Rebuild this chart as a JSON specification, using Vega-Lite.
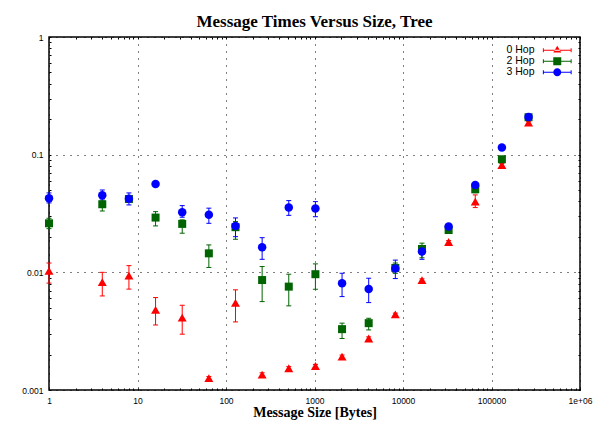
{
  "$schema": "https://vega.github.io/schema/vega-lite/v6.json",
  "width": 531,
  "height": 353,
  "autosize": "none",
  "padding": {"left": 49, "top": 37, "right": 23, "bottom": 39},
  "background": "white",
  "title": {"text": "Message Times Versus Size, Tree", "font": "Liberation Serif", "fontSize": 17, "fontWeight": "bold", "color": "#000", "anchor": "middle", "baseline": "alphabetic", "offset": -11},
  "config": {"view": {"stroke": "#000", "strokeWidth": 1.5}},
  "data": {"values": [
    {"size": 1, "hop": "0 Hop", "t": 0.0103, "lo": 0.0081, "hi": 0.012},
    {"size": 4, "hop": "0 Hop", "t": 0.00824, "lo": 0.0063, "hi": 0.01},
    {"size": 8, "hop": "0 Hop", "t": 0.00938, "lo": 0.0072, "hi": 0.0114},
    {"size": 16, "hop": "0 Hop", "t": 0.0048, "lo": 0.00357, "hi": 0.0061},
    {"size": 32, "hop": "0 Hop", "t": 0.00412, "lo": 0.00298, "hi": 0.00525},
    {"size": 64, "hop": "0 Hop", "t": 0.00126, "lo": 0.00122, "hi": 0.0013},
    {"size": 128, "hop": "0 Hop", "t": 0.0055, "lo": 0.00379, "hi": 0.0071},
    {"size": 256, "hop": "0 Hop", "t": 0.00135, "lo": 0.0013, "hi": 0.0014},
    {"size": 512, "hop": "0 Hop", "t": 0.00153, "lo": 0.00148, "hi": 0.00158},
    {"size": 1024, "hop": "0 Hop", "t": 0.0016, "lo": 0.00155, "hi": 0.00165},
    {"size": 2048, "hop": "0 Hop", "t": 0.00192, "lo": 0.00186, "hi": 0.00198},
    {"size": 4096, "hop": "0 Hop", "t": 0.00274, "lo": 0.00265, "hi": 0.00283},
    {"size": 8192, "hop": "0 Hop", "t": 0.0044, "lo": 0.0043, "hi": 0.0045},
    {"size": 16384, "hop": "0 Hop", "t": 0.0086, "lo": 0.0084, "hi": 0.0088},
    {"size": 32768, "hop": "0 Hop", "t": 0.0181, "lo": 0.0176, "hi": 0.0186},
    {"size": 65536, "hop": "0 Hop", "t": 0.0399, "lo": 0.0355, "hi": 0.0455},
    {"size": 131072, "hop": "0 Hop", "t": 0.0817, "lo": 0.079, "hi": 0.084},
    {"size": 262144, "hop": "0 Hop", "t": 0.187, "lo": 0.182, "hi": 0.192},
    {"size": 1, "hop": "2 Hop", "t": 0.0261, "lo": 0.0235, "hi": 0.0288},
    {"size": 4, "hop": "2 Hop", "t": 0.0379, "lo": 0.0332, "hi": 0.0426},
    {"size": 8, "hop": "2 Hop", "t": 0.042, "lo": 0.04, "hi": 0.044},
    {"size": 16, "hop": "2 Hop", "t": 0.0292, "lo": 0.0248, "hi": 0.0328},
    {"size": 32, "hop": "2 Hop", "t": 0.0258, "lo": 0.0215, "hi": 0.0279},
    {"size": 64, "hop": "2 Hop", "t": 0.0145, "lo": 0.011, "hi": 0.0171},
    {"size": 128, "hop": "2 Hop", "t": 0.0242, "lo": 0.0191, "hi": 0.027},
    {"size": 256, "hop": "2 Hop", "t": 0.0086, "lo": 0.00564, "hi": 0.0112},
    {"size": 512, "hop": "2 Hop", "t": 0.00756, "lo": 0.00519, "hi": 0.00964},
    {"size": 1024, "hop": "2 Hop", "t": 0.00964, "lo": 0.00718, "hi": 0.0118},
    {"size": 2048, "hop": "2 Hop", "t": 0.00329, "lo": 0.00274, "hi": 0.0037},
    {"size": 4096, "hop": "2 Hop", "t": 0.0037, "lo": 0.00324, "hi": 0.00407},
    {"size": 8192, "hop": "2 Hop", "t": 0.0109, "lo": 0.0098, "hi": 0.012},
    {"size": 16384, "hop": "2 Hop", "t": 0.0158, "lo": 0.0133, "hi": 0.0177},
    {"size": 32768, "hop": "2 Hop", "t": 0.0229, "lo": 0.0221, "hi": 0.0237},
    {"size": 65536, "hop": "2 Hop", "t": 0.0508, "lo": 0.0475, "hi": 0.054},
    {"size": 131072, "hop": "2 Hop", "t": 0.0914, "lo": 0.089, "hi": 0.094},
    {"size": 262144, "hop": "2 Hop", "t": 0.208, "lo": 0.203, "hi": 0.213},
    {"size": 1, "hop": "3 Hop", "t": 0.0426, "lo": 0.0389, "hi": 0.0473},
    {"size": 4, "hop": "3 Hop", "t": 0.0452, "lo": 0.0412, "hi": 0.0501},
    {"size": 8, "hop": "3 Hop", "t": 0.0423, "lo": 0.0374, "hi": 0.0473},
    {"size": 16, "hop": "3 Hop", "t": 0.0564, "lo": 0.054, "hi": 0.059},
    {"size": 32, "hop": "3 Hop", "t": 0.0324, "lo": 0.0294, "hi": 0.0369},
    {"size": 64, "hop": "3 Hop", "t": 0.0308, "lo": 0.0261, "hi": 0.0351},
    {"size": 128, "hop": "3 Hop", "t": 0.0248, "lo": 0.0201, "hi": 0.029},
    {"size": 256, "hop": "3 Hop", "t": 0.0163, "lo": 0.0129, "hi": 0.0197},
    {"size": 512, "hop": "3 Hop", "t": 0.0355, "lo": 0.0305, "hi": 0.0407},
    {"size": 1024, "hop": "3 Hop", "t": 0.0348, "lo": 0.0297, "hi": 0.0399},
    {"size": 2048, "hop": "3 Hop", "t": 0.00808, "lo": 0.00622, "hi": 0.00982},
    {"size": 4096, "hop": "3 Hop", "t": 0.00722, "lo": 0.00553, "hi": 0.00891},
    {"size": 8192, "hop": "3 Hop", "t": 0.0108, "lo": 0.00885, "hi": 0.0127},
    {"size": 16384, "hop": "3 Hop", "t": 0.015, "lo": 0.0129, "hi": 0.016},
    {"size": 32768, "hop": "3 Hop", "t": 0.0245, "lo": 0.0237, "hi": 0.0253},
    {"size": 65536, "hop": "3 Hop", "t": 0.0553, "lo": 0.0535, "hi": 0.0572},
    {"size": 131072, "hop": "3 Hop", "t": 0.115, "lo": 0.112, "hi": 0.118},
    {"size": 262144, "hop": "3 Hop", "t": 0.209, "lo": 0.205, "hi": 0.213}
  ]},
  "resolve": {"axis": {"x": "independent", "y": "independent"}},
  "layer": [
    {
      "mark": {"type": "rule", "strokeWidth": 1},
      "encoding": {
        "x": {"field": "size", "type": "quantitative",
          "scale": {"type": "log", "domain": [1, 1000000], "nice": false},
          "axis": {"orient": "bottom",
            "values": [1,2,3,4,5,6,7,8,9,10,20,30,40,50,60,70,80,90,100,200,300,400,500,600,700,800,900,1000,2000,3000,4000,5000,6000,7000,8000,9000,10000,20000,30000,40000,50000,60000,70000,80000,90000,100000,200000,300000,400000,500000,600000,700000,800000,900000,1000000],
            "labelExpr": "abs(log(datum.value)/LN10 - round(log(datum.value)/LN10)) < 0.001 ? (datum.value > 500000 ? '1e+06' : format(datum.value, 'd')) : ''",
            "labelFont": "Liberation Sans", "labelFontSize": 8.5, "labelColor": "#000",
            "labelFlush": false, "labelOverlap": false, "labelPadding": 8,
            "domain": false, "ticks": true, "tickSize": -2, "tickColor": "#000", "tickWidth": 1,
            "grid": true, "gridColor": "#000", "gridDash": [1, 6], "gridWidth": 1,
            "gridOpacity": {"condition": {"test": "abs(log(datum.value)/LN10 - round(log(datum.value)/LN10)) < 0.001", "value": 1}, "value": 0},
            "title": "Message Size [Bytes]", "titleFont": "Liberation Serif", "titleFontSize": 14, "titleFontWeight": "bold", "titleColor": "#000",
            "titleBaseline": "alphabetic", "titleY": 26}},
        "y": {"field": "lo", "type": "quantitative",
          "scale": {"type": "log", "domain": [0.001, 1], "nice": false},
          "axis": {"orient": "left",
            "values": [0.001,0.002,0.003,0.004,0.005,0.006,0.007,0.008,0.009,0.01,0.02,0.03,0.04,0.05,0.06,0.07,0.08,0.09,0.1,0.2,0.3,0.4,0.5,0.6,0.7,0.8,0.9,1],
            "labelExpr": "abs(log(datum.value)/LN10 - round(log(datum.value)/LN10)) < 0.001 ? format(datum.value, '~g') : ''",
            "labelFont": "Liberation Sans", "labelFontSize": 8.5, "labelColor": "#000",
            "labelFlush": false, "labelOverlap": false, "labelPadding": 8, "labelBaseline": "middle",
            "domain": false, "ticks": true, "tickSize": -2, "tickColor": "#000", "tickWidth": 1,
            "grid": true, "gridColor": "#000", "gridDash": [1, 6], "gridWidth": 1,
            "gridOpacity": {"condition": {"test": "abs(log(datum.value)/LN10 - round(log(datum.value)/LN10)) < 0.001", "value": 1}, "value": 0},
            "title": null}},
        "y2": {"field": "hi"},
        "color": {"field": "hop", "type": "nominal",
          "scale": {"domain": ["0 Hop", "2 Hop", "3 Hop"], "range": ["#ff0000", "#006400", "#0000ff"]},
          "legend": {"orient": "none", "legendX": 503, "legendY": 8, "title": null, "padding": 0,
            "labelAlign": "right", "labelOffset": -28, "labelFont": "Liberation Sans", "labelFontSize": 10.5, "labelColor": "#000",
            "symbolSize": 64, "rowPadding": -2,
            "encode": {"symbols": {"update": {
              "shape": {"signal": "datum.value === '0 Hop' ? 'M-3.5,-0.125H3.5V0.125H-3.5ZM-3.6,-0.5H-3.35V0.5H-3.6ZM3.35,-0.5H3.6V0.5H3.35ZM0,-1.155L-1,0.577L1,0.577Z' : datum.value === '2 Hop' ? 'M-3.5,-0.125H3.5V0.125H-3.5ZM-3.6,-0.5H-3.35V0.5H-3.6ZM3.35,-0.5H3.6V0.5H3.35ZM-1,-1H1V1H-1Z' : 'M-3.5,-0.125H3.5V0.125H-3.5ZM-3.6,-0.5H-3.35V0.5H-3.6ZM3.35,-0.5H3.6V0.5H3.35ZM-1,0A1,1 0 1,1 1,0A1,1 0 1,1 -1,0Z'"},
              "size": {"value": 64},
              "strokeWidth": {"value": 0}
            }}}}}
      }
    },
    {
      "mark": {"type": "point", "shape": "M-1,0H1", "size": 25, "filled": false, "strokeWidth": 1, "opacity": 1},
      "encoding": {
        "x": {"field": "size", "type": "quantitative",
          "axis": {"orient": "top",
            "values": [1,2,3,4,5,6,7,8,9,10,20,30,40,50,60,70,80,90,100,200,300,400,500,600,700,800,900,1000,2000,3000,4000,5000,6000,7000,8000,9000,10000,20000,30000,40000,50000,60000,70000,80000,90000,100000,200000,300000,400000,500000,600000,700000,800000,900000,1000000],
            "labels": false, "domain": false, "grid": false, "ticks": true, "tickSize": -2, "tickColor": "#000", "title": null}},
        "y": {"field": "lo", "type": "quantitative",
          "axis": {"orient": "right",
            "values": [0.001,0.002,0.003,0.004,0.005,0.006,0.007,0.008,0.009,0.01,0.02,0.03,0.04,0.05,0.06,0.07,0.08,0.09,0.1,0.2,0.3,0.4,0.5,0.6,0.7,0.8,0.9,1],
            "labels": false, "domain": false, "grid": false, "ticks": true, "tickSize": -2, "tickColor": "#000", "title": null}},
        "color": {"field": "hop", "type": "nominal"}
      }
    },
    {
      "mark": {"type": "point", "shape": "M-1,0H1", "size": 25, "filled": false, "strokeWidth": 1, "opacity": 1},
      "encoding": {
        "x": {"field": "size", "type": "quantitative", "axis": null},
        "y": {"field": "hi", "type": "quantitative", "axis": null},
        "color": {"field": "hop", "type": "nominal"}
      }
    },
    {
      "transform": [{"filter": {"field": "hop", "equal": "0 Hop"}}],
      "mark": {"type": "point", "filled": true, "shape": "triangle-up", "size": 81, "opacity": 1},
      "encoding": {
        "x": {"field": "size", "type": "quantitative", "axis": null},
        "y": {"field": "t", "type": "quantitative", "axis": null},
        "color": {"field": "hop", "type": "nominal"}
      }
    },
    {
      "transform": [{"filter": {"field": "hop", "equal": "2 Hop"}}],
      "mark": {"type": "point", "filled": true, "shape": "square", "size": 64, "opacity": 1},
      "encoding": {
        "x": {"field": "size", "type": "quantitative", "axis": null},
        "y": {"field": "t", "type": "quantitative", "axis": null},
        "color": {"field": "hop", "type": "nominal"}
      }
    },
    {
      "transform": [{"filter": {"field": "hop", "equal": "3 Hop"}}],
      "mark": {"type": "point", "filled": true, "shape": "circle", "size": 72, "opacity": 1},
      "encoding": {
        "x": {"field": "size", "type": "quantitative", "axis": null},
        "y": {"field": "t", "type": "quantitative", "axis": null},
        "color": {"field": "hop", "type": "nominal"}
      }
    }
  ]
}
